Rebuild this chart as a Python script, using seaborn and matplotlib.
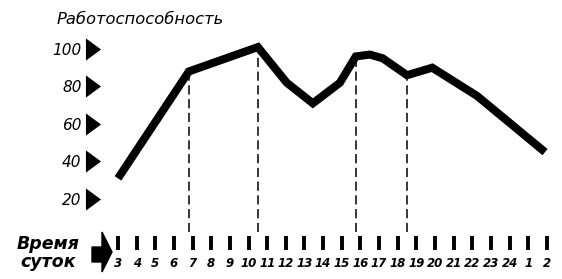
import numpy as np
import pandas as pd
import matplotlib
matplotlib.use("Agg")
import matplotlib.pyplot as plt
import seaborn as sns
from matplotlib.path import Path
from matplotlib.patches import Polygon

# ---- data ----
hours = [3.0, 6.8, 10.5, 12.05, 13.45, 14.9, 15.75, 16.5, 17.2, 18.5, 19.85, 22.25, 25.9]
values = [31, 88, 101, 82, 71, 82, 96, 97, 95, 86, 90, 75, 45]
marked_idx = [1, 2, 6, 9]
tick_pos = list(range(3, 27))
tick_labels = [str(h) for h in range(3, 25)] + ["1", "2"]
y_ticks = [20, 40, 60, 80, 100]
title = "Работоспособность"
xlabel = "Время\nсуток"

sns.set_theme(style="white")
plt.rcParams["font.family"] = ["DejaVu Sans"]
plt.rcParams["text.color"] = "black"
plt.rcParams["xtick.color"] = "black"
plt.rcParams["ytick.color"] = "black"

W, H = 562, 279
fig = plt.figure(figsize=(W / 100, H / 100), dpi=100)
ax = fig.add_axes([100 / W, (H - 250) / H, (W - 100) / W, 250 / H])

df = pd.DataFrame({"hour": hours, "value": values})
sns.lineplot(data=df, x="hour", y="value", ax=ax, color="black", linewidth=5.8,
             sort=False, solid_joinstyle="miter", solid_capstyle="butt")

# dashed marker lines
mx = [hours[i] for i in marked_idx]
my = [values[i] for i in marked_idx]
ax.vlines(mx, 2.5, my, colors="black", linestyles=(0, (6, 3)), linewidth=1.1, zorder=1)

ax.set_xlim(2.035, 26.81)
ax.set_ylim(-7.2, 126.1)
ax.set_xlabel("")
ax.set_ylabel("")
for s in ax.spines.values():
    s.set_visible(False)

# x ticks: thick bars
ax.set_xticks(tick_pos)
ax.set_xticklabels(tick_labels, fontsize=8.5, style="italic", fontweight="bold", color="black")
ax.tick_params(axis="x", direction="in", length=10, width=2.8, pad=5, color="black",
               bottom=True, labelcolor="black")

# y ticks: triangles
ax.spines["left"].set_position(("outward", 4.7))
ax.set_yticks(y_ticks)
ax.set_yticklabels([str(v) for v in y_ticks], fontsize=11, style="italic", color="black")
ax.tick_params(axis="y", length=0, pad=8.5, left=True, labelcolor="black")
tri = Path([(-0.68, -1.0), (0.68, 0.0), (-0.68, 1.0), (-0.68, -1.0)],
           [Path.MOVETO, Path.LINETO, Path.LINETO, Path.CLOSEPOLY])
for t in ax.yaxis.get_major_ticks():
    t.tick1line.set_marker(tri)
    t.tick1line.set_markersize(16)
    t.tick1line.set_markerfacecolor("black")
    t.tick1line.set_markeredgecolor("black")
    t.tick1line.set_markeredgewidth(0)

# title at top-left
fig.text(57 / W, 1 - 20 / H, title, fontsize=11.8, style="italic", ha="left", va="center",
         color="black")

# "Время суток" label
fig.text(48 / W, 1 - 253 / H, xlabel, fontsize=12.5, style="italic", fontweight="bold",
         ha="center", va="center", linespacing=0.95, color="black")

# block arrow
pts = [(92, 247), (102, 247), (102, 232), (112, 252), (102, 272), (102, 262), (92, 262)]
fig.patches.append(Polygon([(x / W, 1 - y / H) for x, y in pts], closed=True,
                           transform=fig.transFigure, facecolor="black",
                           edgecolor="black", figure=fig))

fig.savefig("out.png", dpi=100, facecolor="white")
